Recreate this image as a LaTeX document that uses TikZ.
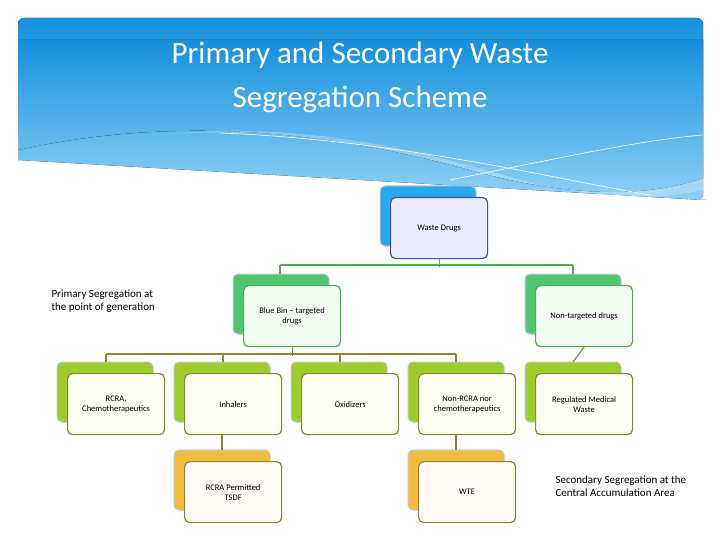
\documentclass[tikz,border=0pt]{standalone}
\usepackage{fontspec}
\setmainfont{Carlito}
\begin{document}
\begin{tikzpicture}[x=1pt,y=-1pt,
  back/.style={rounded corners=5pt,draw=gray!45,line width=1pt},
  front/.style={rounded corners=5pt,line width=1.2pt,align=center,font=\fontsize{8.5}{10}\selectfont},
  conn/.style={line width=1.2pt,draw=olive!80!black}]
\useasboundingbox (0,0) rectangle (720,540);
\definecolor{hdA}{HTML}{1590DD}\definecolor{hdB}{HTML}{8ED1F7}
\definecolor{bl}{HTML}{2AA8EC}\definecolor{gr}{HTML}{50C673}\definecolor{lg}{HTML}{9DCB2C}
\definecolor{og}{HTML}{F2BC3E}\definecolor{olv}{HTML}{8A8A30}
% header
\fill[top color=hdA,bottom color=hdB,rounded corners=6pt] (18,160) -- (18,18) -- (703,18) -- (703,200) -- (700,200)[sharp corners] -- (703,200);
\fill[top color=hdA,bottom color=hdB] (18,150) -- (18,40) -- (703,40) -- (703,178) .. controls (640,200) and (560,195) .. (470,170) .. controls (360,140) and (200,110) .. (18,150) -- cycle;
\fill[white,opacity=0.25] (160,135) .. controls (300,120) and (420,150) .. (520,180) .. controls (600,200) and (660,200) .. (703,190) -- (703,178) .. controls (640,200) and (560,195) .. (470,170) .. controls (380,145) and (260,125) .. (160,135);
\draw[white,line width=0.6pt] (220,133) .. controls (400,140) and (560,180) .. (650,195);
\draw[white,line width=0.6pt] (450,180) .. controls (550,160) and (640,140) .. (703,135);
\node[white,align=center,font=\fontsize{31}{44}\selectfont] (title) at (360,77) {Primary and Secondary Waste\\Segregation Scheme};
% boxes
\newcommand{\bx}[7]{% name, x, y (back top-left), color, fill, border, text
 \fill[#4] (#2,#3) rectangle ++(0,0);
 \draw[back,fill=#4] (#2,#3) rectangle ++(96,60);
 \node[front,draw=#6,fill=#5,minimum width=97pt,minimum height=61pt,anchor=north west] (#1) at (#2+10,#3+11) {#7};}
\bx{wd}{380}{186}{bl}{white!92!blue}{blue!40!gray}{Waste Drugs}
\bx{bb}{233}{274}{gr}{green!5}{green!40!gray}{Blue Bin – targeted\\drugs}
\bx{nt}{525}{274}{gr}{green!5}{green!40!gray}{Non-targeted drugs}
\bx{rc}{57}{362}{lg}{lime!5}{olv}{RCRA,\\Chemotherapeutics}
\bx{inh}{174}{362}{lg}{lime!5}{olv}{Inhalers}
\bx{ox}{291}{362}{lg}{lime!5}{olv}{Oxidizers}
\bx{nr}{408}{362}{lg}{lime!5}{olv}{Non-RCRA nor\\chemotherapeutics}
\bx{rm}{525}{362}{lg}{lime!5}{olv}{Regulated Medical\\Waste}
\bx{ts}{174}{450}{og}{orange!4}{olv}{RCRA Permitted\\TSDF}
\bx{wte}{408}{450}{og}{orange!4}{olv}{WTE}
% connectors
\draw[line width=1.2pt,draw=green!40!gray] (wd.south) -- ++(0,8) coordinate (h1);
\draw[line width=1.2pt,draw=green!40!gray] (280,265) -- (573,265);
\draw[line width=1.2pt,draw=green!40!gray] (280,265) -- (280,274) (573,265) -- (573,274);
\draw[conn,draw=olv] (bb.south) -- ++(0,9);
\draw[conn,draw=olv] (106,354) -- (456,354);
\foreach \x in {106,223,340,456} \draw[conn,draw=olv] (\x,354) -- (\x,362);
\draw[conn,draw=olv] (nt.south) -- (573,362);
\draw[conn,draw=olv] (inh.south -| 222,0) -- (222,450);
\draw[conn,draw=olv] (nr.south -| 456,0) -- (456,450);
% labels
\node[align=left,font=\fontsize{11}{13}\selectfont,anchor=north west] (pl) at (48,286) {Primary Segregation at\\the point of generation};
\node[align=left,font=\fontsize{11}{13}\selectfont,anchor=north west] (sl) at (552,472) {Secondary Segregation at the\\Central Accumulation Area};
\end{tikzpicture}
\end{document}
